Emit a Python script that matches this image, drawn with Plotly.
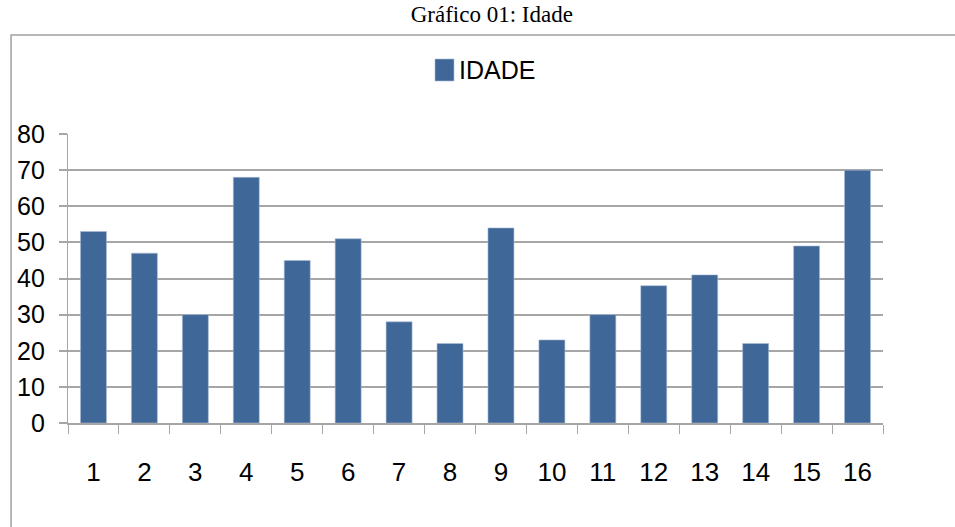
"""
Gráfico de barras: Idade (Gráfico 01).
"""

import plotly.graph_objects as go

categorias = [str(i) for i in range(1, 17)]
idade = [53, 47, 30, 68, 45, 51, 28, 22, 54, 23, 30, 38, 41, 22, 49, 70]
y_ticks = [0, 10, 20, 30, 40, 50, 60, 70, 80]

cor_barra = '#3f6797'
cor_grade = '#a6a6a6'
fonte_eixo = 'Liberation Sans, Arial'

fig = go.Figure()

fig.add_trace(go.Bar(
    name='IDADE',
    x=categorias,
    y=idade,
    marker=dict(color=cor_barra, line=dict(color='#a9bcd6', width=0.6)),
    showlegend=False
))

fig.update_layout(
    width=955,
    height=527,
    margin=dict(l=68, r=72, t=134, b=104),
    paper_bgcolor='white',
    plot_bgcolor='white',
    bargap=0.49,
    title=dict(
        text='Gráfico 01: Idade',
        x=0.515, xanchor='center',
        y=0.973, yanchor='middle',
        font=dict(family='Liberation Serif', size=23, color='black')
    ),
    font=dict(family='Liberation Sans', color='black')
)

fig.update_xaxes(
    type='category',
    showgrid=False,
    showline=True,
    linecolor=cor_grade,
    linewidth=1.5,
    ticks='outside',
    tickson='boundaries',
    ticklen=9,
    tickcolor=cor_grade,
    tickwidth=1.2,
    tickfont=dict(family=fonte_eixo, size=26, color='black'),
    ticklabelstandoff=25
)

fig.update_yaxes(
    range=[0, 80],
    tickvals=y_ticks,
    showgrid=True,
    gridcolor=cor_grade,
    gridwidth=1.5,
    showline=True,
    linecolor=cor_grade,
    linewidth=1.2,
    ticks='outside',
    ticklen=8,
    tickcolor=cor_grade,
    tickwidth=1.5,
    zeroline=False,
    tickfont=dict(family=fonte_eixo, size=25, color='black'),
    ticklabelstandoff=9
)

# legenda desenhada: quadrado + texto
fig.add_shape(
    type='rect', xref='paper', yref='paper',
    x0=0.4503, x1=0.4736, y0=1.1834, y1=1.2595,
    line=dict(color='#a9bcd6', width=0.6), fillcolor=cor_barra
)
fig.add_annotation(
    text='IDADE', xref='paper', yref='paper',
    x=0.4773, y=1.2215, xanchor='left', yanchor='middle',
    showarrow=False,
    font=dict(family='Liberation Sans', size=25, color='black')
)

# moldura externa do gráfico
fig.add_shape(
    type='rect', xref='paper', yref='paper',
    x0=-0.0699, x1=1.1, y0=-0.4, y1=1.3426,
    line=dict(color='#a0a0a0', width=1.5),
    fillcolor='rgba(0,0,0,0)', layer='below'
)

fig.write_html(
    'out.html',
    config={'displayModeBar': False},
    post_script="document.body.style.margin='0';"
)
